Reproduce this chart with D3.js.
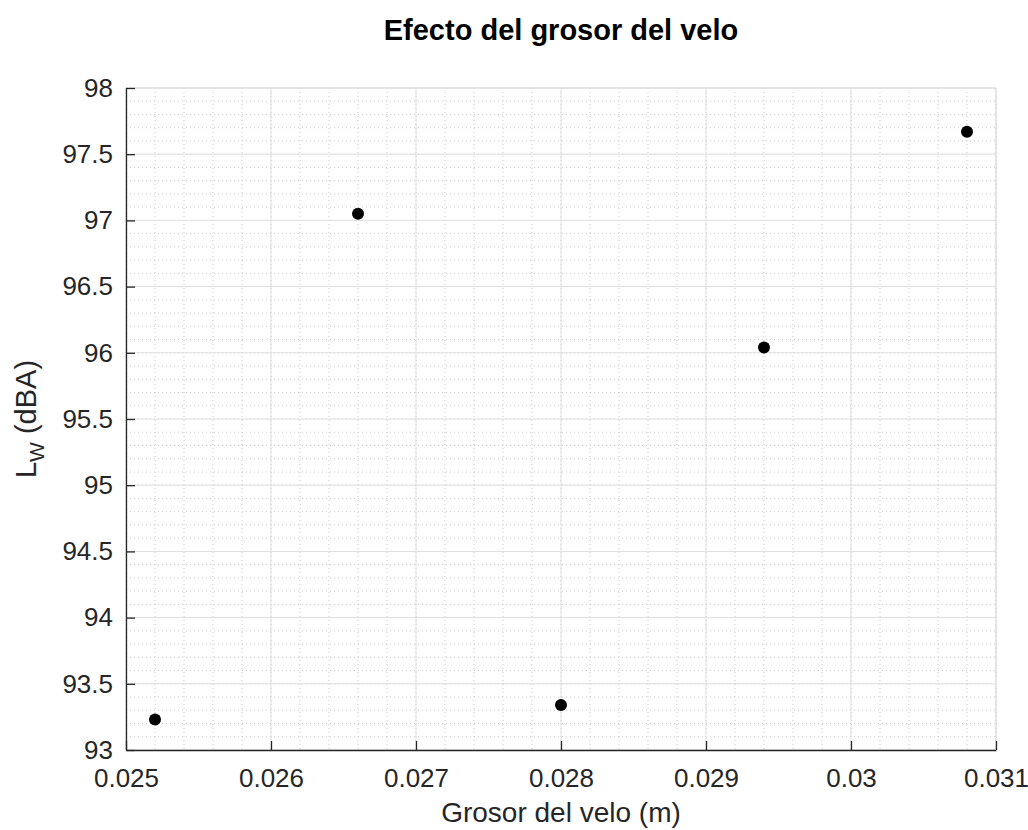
<!DOCTYPE html>
<html>
<head>
<meta charset="utf-8">
<script src="https://cdn.jsdelivr.net/npm/d3@7"></script>
<style>
  body { margin: 0; background: #fff; }
  text { font-family: "Liberation Sans", Arial, sans-serif; fill: #262626; }
</style>
</head>
<body>
<script>
// data
var grosor = [0.0252, 0.0266, 0.0280, 0.0294, 0.0308];
var lw = [93.23, 97.05, 93.34, 96.04, 97.67];
var xTicks = [0.025, 0.026, 0.027, 0.028, 0.029, 0.030, 0.031];
var xTickLabels = ["0.025", "0.026", "0.027", "0.028", "0.029", "0.03", "0.031"];
var yTicks = [93, 93.5, 94, 94.5, 95, 95.5, 96, 96.5, 97, 97.5, 98];

var W = 1028, H = 830;
var margin = {left: 126, right: 32, top: 88, bottom: 80};
var width = W - margin.left - margin.right,
    height = H - margin.top - margin.bottom;

var svg = d3.select("body").append("svg")
    .attr("width", W).attr("height", H);

var g = svg.append("g")
    .attr("transform", "translate(" + margin.left + "," + margin.top + ")");

var x = d3.scaleLinear().domain([0.025, 0.031]).range([0, width]);
var y = d3.scaleLinear().domain([93, 98]).range([height, 0]);

// minor grid
var xMinor = d3.range(0, 31).map(function (i) { return 0.025 + i * 0.0002; });
var yMinor = d3.range(0, 51).map(function (i) { return 93 + i * 0.1; });

g.append("g").selectAll("line")
    .data(xMinor).enter().append("line")
    .attr("x1", function (d) { return x(d); }).attr("x2", function (d) { return x(d); })
    .attr("y1", 0).attr("y2", height)
    .attr("stroke", "#c8c8c8").attr("stroke-width", 1)
    .attr("stroke-dasharray", "1,3");

g.append("g").selectAll("line")
    .data(yMinor).enter().append("line")
    .attr("y1", function (d) { return y(d); }).attr("y2", function (d) { return y(d); })
    .attr("x1", 0).attr("x2", width)
    .attr("stroke", "#c8c8c8").attr("stroke-width", 1)
    .attr("stroke-dasharray", "1,3");

// major grid
g.append("g").selectAll("line")
    .data(xTicks).enter().append("line")
    .attr("x1", function (d) { return x(d); }).attr("x2", function (d) { return x(d); })
    .attr("y1", 0).attr("y2", height)
    .attr("stroke", "#e0e0e0").attr("stroke-width", 1);

g.append("g").selectAll("line")
    .data(yTicks).enter().append("line")
    .attr("y1", function (d) { return y(d); }).attr("y2", function (d) { return y(d); })
    .attr("x1", 0).attr("x2", width)
    .attr("stroke", "#e0e0e0").attr("stroke-width", 1);

// top/right box edges (light)
g.append("path")
    .attr("d", "M0,0H" + width + "V" + height)
    .attr("fill", "none").attr("stroke", "#dcdcdc").attr("stroke-width", 1);

// axes
var xAxis = d3.axisBottom(x).tickValues(xTicks)
    .tickFormat(function (d, i) { return xTickLabels[i]; })
    .tickSizeInner(-9).tickSizeOuter(0).tickPadding(19);
var yAxis = d3.axisLeft(y).tickValues(yTicks)
    .tickFormat(function (d) { return d3.format("")(d); })
    .tickSizeInner(-9).tickSizeOuter(0).tickPadding(13);

var gx = g.append("g").attr("transform", "translate(0," + height + ")").call(xAxis);
var gy = g.append("g").call(yAxis);

[gx, gy].forEach(function (a) {
  a.attr("font-size", null).attr("font-family", null);
  a.select(".domain").attr("stroke", "#262626").attr("stroke-width", 1.3);
  a.selectAll(".tick line").attr("stroke", "#262626").attr("stroke-width", 1.3);
  a.selectAll(".tick text").style("font-size", "26px").attr("fill", "#262626");
});

// points
g.append("g").selectAll("circle")
    .data(grosor).enter().append("circle")
    .attr("cx", function (d) { return x(d); })
    .attr("cy", function (d, i) { return y(lw[i]); })
    .attr("r", 6)
    .attr("fill", "#000");

// title
svg.append("text")
    .attr("x", margin.left + width / 2).attr("y", 40)
    .attr("text-anchor", "middle")
    .style("font-size", "29px").style("font-weight", "bold")
    .style("fill", "#000")
    .text("Efecto del grosor del velo");

// x label
svg.append("text")
    .attr("x", margin.left + width / 2).attr("y", 822)
    .attr("text-anchor", "middle")
    .style("font-size", "28px")
    .text("Grosor del velo (m)");

// y label with subscript
var yl = svg.append("text")
    .attr("transform", "translate(36," + (margin.top + height / 2) + ") rotate(-90)")
    .attr("text-anchor", "middle")
    .style("font-size", "29px");
yl.append("tspan").text("L");
yl.append("tspan").attr("dy", 8).style("font-size", "21px").text("W");
yl.append("tspan").attr("dy", -8).text(" (dBA)");
</script>
</body>
</html>
